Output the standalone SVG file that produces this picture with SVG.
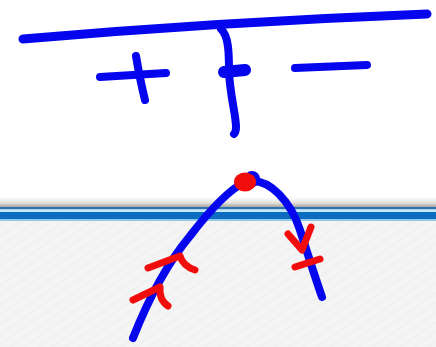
<svg xmlns="http://www.w3.org/2000/svg" width="436" height="347" viewBox="0 0 436 347">
<defs>
<style>
.b{fill:none;stroke:#0505ee;stroke-linecap:round;stroke-linejoin:round}
.r{fill:none;stroke:#f20d0d;stroke-width:7;stroke-linecap:round;stroke-linejoin:round}
</style>
<linearGradient id="sh" x1="0" y1="0" x2="0" y2="1">
<stop offset="0" stop-color="#ffffff"/>
<stop offset="0.6" stop-color="#e2e0dc"/>
<stop offset="1" stop-color="#a9a49c"/>
</linearGradient>
<pattern id="tex" width="8" height="8" patternUnits="userSpaceOnUse" patternTransform="rotate(-35)">
<rect width="8" height="8" fill="#f4f4f4"/>
<line x1="0" y1="2" x2="8" y2="2" stroke="#efefef" stroke-width="1.5"/>
</pattern>
</defs>
<rect width="436" height="347" fill="#ffffff"/>
<g id="ground">
<rect x="0" y="197" width="436" height="10" fill="url(#sh)"/>
<rect x="0" y="207" width="436" height="2.5" fill="#2f72b2"/>
<rect x="0" y="209.5" width="436" height="2.5" fill="#c4e8f6"/>
<rect x="0" y="212" width="436" height="7" fill="#0b6cc0"/>
<rect x="0" y="219" width="436" height="2" fill="#8ec8ea"/>
<rect x="0" y="221" width="436" height="126" fill="url(#tex)"/>
</g>
<g id="sign-chart">
<path class="b" stroke-width="9" d="M23,39 Q220,22 427,14"/>
<path class="b" stroke-width="8" d="M100,77 L166,73"/>
<path class="b" stroke-width="8" d="M136,56 Q140,80 145,100"/>
<path class="b" stroke-width="8" d="M221,29 C229,36 229,55 229,72 C230,95 236,115 236,127 Q236,132 234,134"/>
<path class="b" stroke-width="12" d="M224,72 L245,70"/>
<path class="b" stroke-width="8" d="M295,68 L367,65"/>
</g>
<g id="curve">
<path class="b" stroke-width="8" d="M133,338 C150,295 170,260 190,236 C210,210 228,190 245,182 C270,175 292,205 300,230 C308,255 316,280 322,297"/>
<circle cx="252" cy="179" r="8" fill="#0505ee"/>
<ellipse cx="245" cy="182" rx="11" ry="9.5" fill="#f20d0d"/>
</g>
<g id="arrows">
<path class="r" d="M148,268 L180,256 Q183,266 195,270"/>
<path class="r" d="M133,300 L160,287 Q159,300 168,306"/>
<path class="r" d="M288,234 L302,250 L311,227"/>
<path class="r" d="M295,267 L320,259"/>
</g>
</svg>
